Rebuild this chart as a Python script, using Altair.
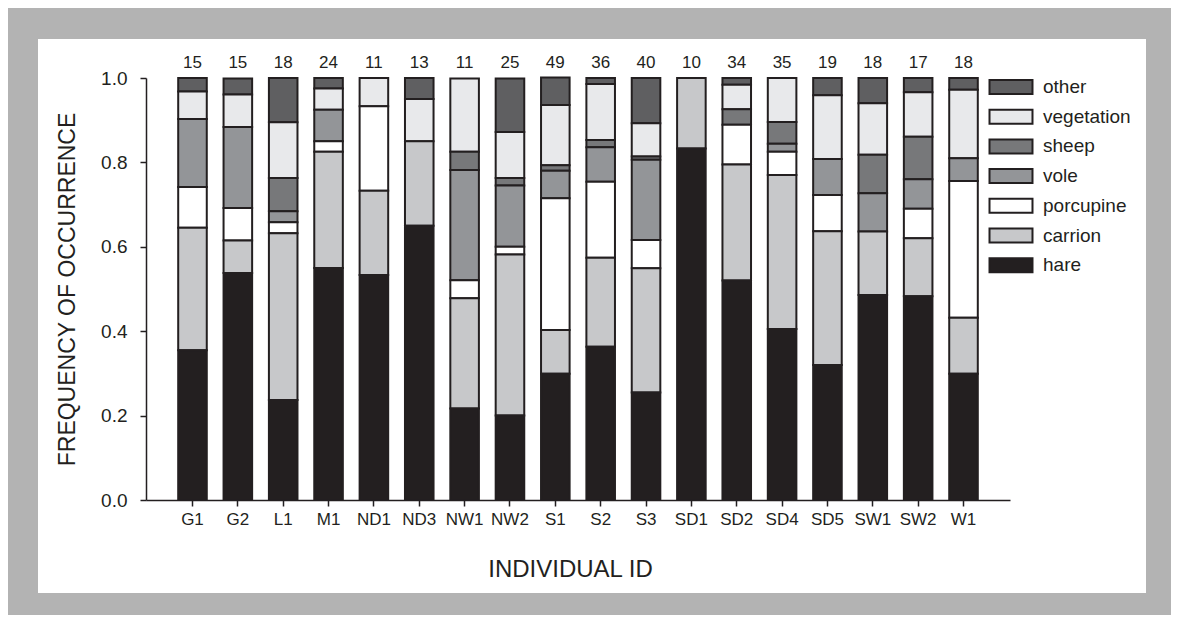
import altair as alt
import pandas as pd

ids = ["G1", "G2", "L1", "M1", "ND1", "ND3", "NW1", "NW2", "S1", "S2", "S3",
       "SD1", "SD2", "SD4", "SD5", "SW1", "SW2", "W1"]
counts = [15, 15, 18, 24, 11, 13, 11, 25, 49, 36, 40, 10, 34, 35, 19, 18, 17, 18]

hare = [0.355, 0.538, 0.237, 0.550, 0.533, 0.650, 0.217, 0.200, 0.299, 0.363, 0.255,
        0.833, 0.520, 0.405, 0.320, 0.486, 0.483, 0.299]
carrion = [0.290, 0.077, 0.395, 0.275, 0.200, 0.200, 0.261, 0.382, 0.104, 0.211, 0.294,
           0.167, 0.275, 0.365, 0.317, 0.150, 0.137, 0.133]
porcupine = [0.097, 0.077, 0.026, 0.025, 0.200, 0.0, 0.043, 0.018, 0.312, 0.180, 0.067,
             0.0, 0.094, 0.055, 0.086, 0.0, 0.070, 0.324]
vole = [0.161, 0.192, 0.026, 0.075, 0.0, 0.0, 0.261, 0.145, 0.065, 0.082, 0.190,
        0.0, 0.0, 0.019, 0.085, 0.091, 0.070, 0.054]
sheep = [0.0, 0.0, 0.079, 0.0, 0.0, 0.0, 0.043, 0.018, 0.013, 0.017, 0.008,
         0.0, 0.037, 0.052, 0.0, 0.091, 0.101, 0.0]
vegetation = [0.065, 0.077, 0.132, 0.050, 0.067, 0.100, 0.174, 0.109, 0.143, 0.133, 0.079,
              0.0, 0.058, 0.104, 0.151, 0.122, 0.105, 0.162]
other = [0.032, 0.038, 0.105, 0.025, 0.0, 0.050, 0.0, 0.127, 0.065, 0.014, 0.107,
         0.0, 0.016, 0.0, 0.041, 0.060, 0.034, 0.028]

categories = ["other", "vegetation", "sheep", "vole", "porcupine", "carrion", "hare"]
colors = ["#5f5f61", "#e8e9eb", "#77787a", "#939598", "#ffffff", "#c7c8ca", "#231f20"]
series = {"other": other, "vegetation": vegetation, "sheep": sheep, "vole": vole,
          "porcupine": porcupine, "carrion": carrion, "hare": hare}

rows = []
for cat in categories:
    rank = len(categories) - categories.index(cat)
    for i, v in zip(ids, series[cat]):
        if v > 0:
            rows.append({"id": i, "diet": cat, "value": v, "rank": rank})
df = pd.DataFrame(rows)
df_n = pd.DataFrame({"id": ids, "n": counts})

FONT = "Liberation Sans"
INK = "#231f20"

xscale = alt.Scale(domain=ids, paddingInner=0.37, paddingOuter=0.71)
yscale = alt.Scale(domain=[0, 1], nice=False)

panel = alt.Chart(pd.DataFrame({"a": [0]})).mark_rect(fill="white").encode(
    x=alt.value(-108), x2=alt.value(1000), y=alt.value(-39), y2=alt.value(515)
)

bars = alt.Chart(df).mark_bar(stroke=INK, strokeWidth=2).encode(
    x=alt.X("id:N", sort=ids, scale=xscale,
            axis=alt.Axis(title="INDIVIDUAL ID", labelAngle=0, tickSize=6,
                          labelPadding=5, titlePadding=30, titleX=424, zindex=1)),
    y=alt.Y("value:Q", stack="zero", scale=yscale,
            axis=alt.Axis(title="FREQUENCY OF OCCURRENCE", values=[0, 0.2, 0.4, 0.6, 0.8, 1.0],
                          format=".1f", tickSize=6, labelPadding=13, titlePadding=21,
                          zindex=1)),
    color=alt.Color("diet:N", scale=alt.Scale(domain=categories, range=colors),
                    legend=alt.Legend(title=None, orient="none", legendX=853, legendY=-3,
                                      symbolType="M-2,-0.65L2,-0.65L2,0.65L-2,0.65Z",
                                      symbolSize=462, symbolStrokeColor=INK,
                                      symbolStrokeWidth=2, symbolOpacity=1,
                                      labelFontSize=19, labelFont=FONT, labelColor=INK,
                                      labelOffset=20, rowPadding=6.7)),
    order=alt.Order("rank:Q", sort="ascending"),
)

texts = alt.Chart(df_n).mark_text(fontSize=17, font=FONT, color=INK, baseline="alphabetic",
                                  dy=-10).encode(
    x=alt.X("id:N", sort=ids, scale=xscale),
    y=alt.datum(1.0),
    text="n:Q",
)

chart = alt.layer(panel, bars, texts).properties(
    width=864, height=422,
    autosize=alt.AutoSizeParams(type="none"),
    padding={"left": 138, "top": 70, "right": 161, "bottom": 115},
    background="#b3b3b3",
).configure_view(stroke=None).configure_axis(
    grid=False, domainColor=INK, domainWidth=1.5, tickColor=INK, tickWidth=1.5,
    labelFont=FONT, labelFontSize=19, labelColor=INK,
    titleFont=FONT, titleFontSize=23, titleFontWeight="normal", titleColor=INK,
).configure_axisX(labelFontSize=17, titleFontSize=24)

chart.save("out.html", embed_options={"renderer": "svg", "actions": False})
